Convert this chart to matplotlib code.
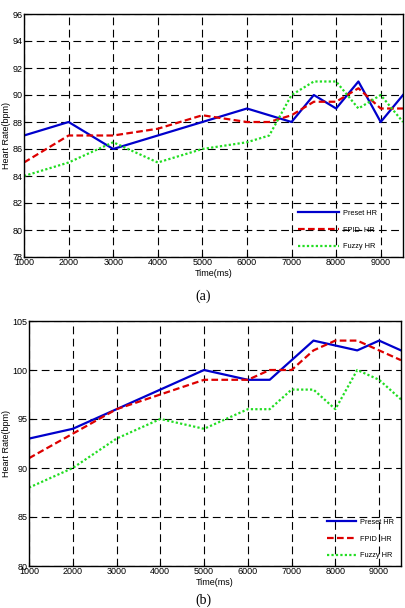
import matplotlib
matplotlib.use('Agg')
import matplotlib.pyplot as plt
import numpy as np

plt.rcParams['font.family'] = ['Liberation Sans', 'DejaVu Sans']

# panel (a)
t_preset_a = [1000, 2000, 3000, 4000, 5000, 6000, 7000, 7500, 8000, 8500, 9000, 9500]
preset_a = [87, 88, 86, 87, 88, 89, 88, 90, 89, 91, 88, 90]
t_fpid_a = [1000, 2000, 3000, 4000, 5000, 6000, 6500, 7000, 7500, 8000, 8500, 9000, 9500]
fpid_a = [85, 87, 87, 87.5, 88.5, 88, 88, 88.5, 89.5, 89.5, 90.5, 89, 89]
t_fuzzy_a = [1000, 2000, 3000, 4000, 5000, 6000, 6500, 7000, 7500, 8000, 8500, 9000, 9500]
fuzzy_a = [84, 85, 86.5, 85, 86, 86.5, 87, 90, 91, 91, 89, 90, 88]

# panel (b)
t_b = [1000, 2000, 3000, 4000, 5000, 6000, 6500, 7000, 7500, 8000, 8500, 9000, 9500]
preset_b = [93, 94, 96, 98, 100, 99, 99, 101, 103, 102.5, 102, 103, 102]
fpid_b = [91, 93.5, 96, 97.5, 99, 99, 100, 100, 102, 103, 103, 102, 101]
fuzzy_b = [88, 90, 93, 95, 94, 96, 96, 98, 98, 96, 100, 99, 97]

xticks = [1000, 2000, 3000, 4000, 5000, 6000, 7000, 8000, 9000]

fig = plt.figure(figsize=(4.06, 6.08), dpi=100)
W, H = 406.0, 608.0


def panel(rect, series, yticks, ylim, leg_anchor, hlen, label_y, tag):
    l, t, r, b = rect
    ax = fig.add_axes([l / W, 1 - b / H, (r - l) / W, (b - t) / H])
    (tp, yp), (tf, yf), (tz, yz) = series
    ax.plot(tp, yp, color='#0000cc', lw=1.6, label='Preset HR')
    ax.plot(tf, yf, color='#dd0000', lw=1.6, ls=(0, (3, 1.5)), label='FPID  HR')
    ax.plot(tz, yz, color='#22dd22', lw=1.6, ls=(0, (1, 1)), label='Fuzzy HR')
    ax.set_xlim(1000, 9500)
    ax.set_ylim(*ylim)
    ax.set_xticks(xticks)
    ax.set_yticks(yticks)
    ax.grid(True, color='black', ls=(0, (7, 4)), lw=0.8)
    ax.tick_params(direction='in', labelsize=6.5, length=3, pad=1)
    for s in ax.spines.values():
        s.set_linewidth(1.0)
    ax.set_xlabel('Time(ms)', fontsize=6.5, labelpad=1)
    ax.set_ylabel('Heart Rate(bpm)', fontsize=6.5, labelpad=1)
    ax.legend(loc='lower right', bbox_to_anchor=leg_anchor, frameon=False,
              fontsize=5.3, handlelength=hlen, labelspacing=1.3, handletextpad=0.6)
    fig.text(0.5, 1 - label_y / H, tag, ha='center', va='center',
             fontsize=10, family='Liberation Serif')
    return ax


panel((24, 14, 403, 257), [(t_preset_a, preset_a), (t_fpid_a, fpid_a), (t_fuzzy_a, fuzzy_a)],
      np.arange(78, 97, 2), (78, 96), (0.95, 0.0), 5.6, 296, '(a)')
panel((29, 321, 401, 566), [(t_b, preset_b), (t_b, fpid_b), (t_b, fuzzy_b)],
      np.arange(80, 106, 5), (80, 105), (1.0, 0.0), 4.0, 600, '(b)')

fig.savefig('out.png', dpi=100)
